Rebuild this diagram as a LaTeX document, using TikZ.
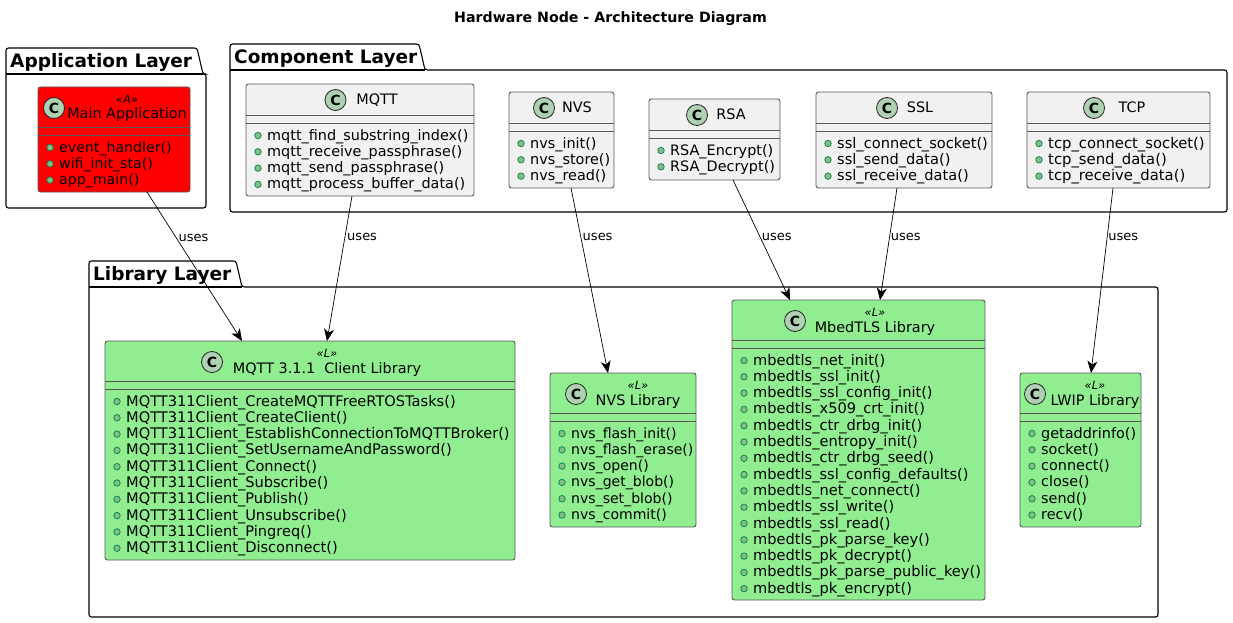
\documentclass[tikz,border=0pt]{standalone}
\usepackage{fontspec}
\setmainfont{DejaVu Sans}
\usepackage{tikz}
\usetikzlibrary{arrows.meta}

\definecolor{greyclass}{HTML}{F1F1F1}
\definecolor{greenclass}{HTML}{90EE90}
\definecolor{spotfill}{HTML}{ADD1B2}
\definecolor{dotfill}{HTML}{84BE84}
\definecolor{dotdraw}{HTML}{038048}

\tikzset{
    classbox/.style={draw=black!65, line width=0.9pt, rounded corners=2.5pt, anchor=north west, inner sep=0, outer sep=0},
    separator/.style={draw=black!65, line width=0.8pt},
    spot/.style={circle, draw=black!85, line width=0.8pt, fill=spotfill, minimum size=21pt, inner sep=0, font=\fontsize{14}{14}\bfseries},
    classtitle/.style={anchor=base, inner sep=0, font=\fontsize{14.4}{15}\selectfont},
    stereo/.style={anchor=base, inner sep=0, font=\fontsize{11.5}{12}\itshape},
    member/.style={anchor=base west, inner sep=0},
    memberdot/.style={circle, draw=dotdraw, line width=0.7pt, fill=dotfill, minimum size=6.5pt, inner sep=0},
    layer/.style={line width=1.1pt, rounded corners=2.5pt, fill=white},
    layertitle/.style={anchor=base west, inner sep=0, font=\fontsize{18.5}{19}\bfseries},
    uses/.style={->, >={Stealth[length=12pt, width=10pt, inset=3.5pt]}, line width=0.7pt},
    useslabel/.style={inner sep=0, font=\fontsize{13}{13}\selectfont},
}

% outline of a package: name, left, top, right of tab, bottom of tab, right, bottom, text
\newcommand{\layerbox}[8]{
    \draw[layer] (#2,#5) -- (#2,#3) -- (#4-6,#3) -- (#4,#5) -- (#6,#5) -- (#6,#7) -- (#2,#7) -- cycle;
    \draw[line width=1.1pt] (#2,#5) -- (#4,#5);
    \node[layertitle] (#1) at (#2+4,#5-6.5) {#8};
}
% name, fill, x, y, width, height
\newcommand{\classrect}[6]{
    \node[classbox, fill=#2, minimum width=#5pt, minimum height=#6pt] (#1) at (#3,#4) {};
}
% name, spot x, title x, title
\newcommand{\plainhead}[4]{
    \path (#1.north west) ++(0,16) coordinate (#1-row);
    \node[spot] (#1-spot) at (#2,0 |- #1-row) {C};
    \path (#1.north west) ++(0,21) coordinate (#1-row);
    \node[classtitle] (#1-title) at (#3,0 |- #1-row) {#4};
    \draw[separator] ([yshift=-31pt]#1.north west) -- ([yshift=-31pt]#1.north east);
    \draw[separator] ([yshift=-39pt]#1.north west) -- ([yshift=-39pt]#1.north east);
}
% name, spot x, title x, title, stereotype
\newcommand{\stereohead}[5]{
    \path (#1.north west) ++(0,21) coordinate (#1-row);
    \node[spot] (#1-spot) at (#2,0 |- #1-row) {C};
    \path (#1.north west) ++(0,16) coordinate (#1-row);
    \node[stereo] (#1-stereo) at (#3,0 |- #1-row) {«#5»};
    \path (#1.north west) ++(0,32) coordinate (#1-row);
    \node[classtitle] (#1-title) at (#3,0 |- #1-row) {#4};
    \draw[separator] ([yshift=-40.5pt]#1.north west) -- ([yshift=-40.5pt]#1.north east);
    \draw[separator] ([yshift=-48pt]#1.north west) -- ([yshift=-48pt]#1.north east);
}
% [font size] name, first baseline below top, list
\newcommand{\members}[4][14.4]{
    \foreach \m [count=\i] in {#4} {
        \pgfmathsetmacro{\my}{#3+16.3*(\i-1)}
        \node[member, font=\fontsize{#1}{15}\selectfont] (#2-m\i) at ([xshift=21pt,yshift=-\my pt]#2.north west) {\m};
        \node[memberdot] (#2-d\i) at ([xshift=-9pt,yshift=4.5pt]#2-m\i.base west) {};
    }
}

\begin{document}
\begin{tikzpicture}[x=1pt, y=-1pt]
    \useasboundingbox[fill=white] (0,0) rectangle (1233,623);

    \node[anchor=base, inner sep=0, font=\fontsize{14.2}{15}\bfseries] (diagramtitle) at (610.5,23) {Hardware Node - Architecture Diagram};

    % layers
    \layerbox{applayer}{6}{48}{203}{74}{206}{208}{Application Layer}
    \layerbox{complayer}{230}{44}{425}{70}{1227}{212}{Component Layer}
    \layerbox{liblayer}{89}{261}{242}{287}{1158}{617}{Library Layer}

    % application
    \classrect{mainapp}{red}{38}{87}{152}{105}
    \stereohead{mainapp}{54}{127}{Main Application}{A}
    \members[14.15]{mainapp}{65}{event\_handler(), wifi\_init\_sta(), app\_main()}

    % components
    \classrect{mqtt}{greyclass}{246}{84}{228}{112}
    \plainhead{mqtt}{335.5}{377}{MQTT}
    \members{mqtt}{56}{mqtt\_find\_substring\_index(), mqtt\_receive\_passphrase(), mqtt\_send\_passphrase(), mqtt\_process\_buffer\_data()}

    \classrect{nvs}{greyclass}{509}{92}{105}{96}
    \plainhead{nvs}{544}{577}{NVS}
    \members{nvs}{56}{nvs\_init(), nvs\_store(), nvs\_read()}

    \classrect{rsa}{greyclass}{649}{99}{131}{81}
    \plainhead{rsa}{697}{731}{RSA}
    \members{rsa}{56}{RSA\_Encrypt(), RSA\_Decrypt()}

    \classrect{ssl}{greyclass}{816}{92}{176}{96}
    \plainhead{ssl}{887}{920}{SSL}
    \members[14.6]{ssl}{56}{ssl\_connect\_socket(), ssl\_send\_data(), ssl\_receive\_data()}

    \classrect{tcp}{greyclass}{1027}{92}{183}{96}
    \plainhead{tcp}{1094}{1132}{TCP}
    \members[14.8]{tcp}{56}{tcp\_connect\_socket(), tcp\_send\_data(), tcp\_receive\_data()}

    % libraries
    \classrect{mqttlib}{greenclass}{105}{341}{410}{219}
    \stereohead{mqttlib}{212}{327}{MQTT 3.1.1\ \ Client Library}{L}
    \members[14.6]{mqttlib}{65}{MQTT311Client\_CreateMQTTFreeRTOSTasks(), MQTT311Client\_CreateClient(), MQTT311Client\_EstablishConnectionToMQTTBroker(), MQTT311Client\_SetUsernameAndPassword(), MQTT311Client\_Connect(), MQTT311Client\_Subscribe(), MQTT311Client\_Publish(), MQTT311Client\_Unsubscribe(), MQTT311Client\_Pingreq(), MQTT311Client\_Disconnect()}

    \classrect{nvslib}{greenclass}{550}{373}{146}{154}
    \stereohead{nvslib}{576}{638}{NVS Library}{L}
    \members[14.05]{nvslib}{65}{nvs\_flash\_init(), nvs\_flash\_erase(), nvs\_open(), nvs\_get\_blob(), nvs\_set\_blob(), nvs\_commit()}

    \classrect{mbedlib}{greenclass}{732}{300}{253}{300}
    \stereohead{mbedlib}{795}{875}{MbedTLS Library}{L}
    \members[14.6]{mbedlib}{65}{mbedtls\_net\_init(), mbedtls\_ssl\_init(), mbedtls\_ssl\_config\_init(), mbedtls\_x509\_crt\_init(), mbedtls\_ctr\_drbg\_init(), mbedtls\_entropy\_init(), mbedtls\_ctr\_drbg\_seed(), mbedtls\_ssl\_config\_defaults(), mbedtls\_net\_connect(), mbedtls\_ssl\_write(), mbedtls\_ssl\_read(), mbedtls\_pk\_parse\_key(), mbedtls\_pk\_decrypt(), mbedtls\_pk\_parse\_public\_key(), mbedtls\_pk\_encrypt()}

    \classrect{lwiplib}{greenclass}{1020}{373}{121}{154}
    \stereohead{lwiplib}{1035}{1095}{LWIP Library}{L}
    \members{lwiplib}{65}{getaddrinfo(), socket(), connect(), close(), send(), recv()}

    % connectors
    \draw[uses] ([xshift=33pt]mainapp.south) -- node[useslabel, pos=0.3, xshift=18pt, yshift=-1pt] (lbl1) {uses} ([xshift=-68pt]mqttlib.north);
    \draw[uses] ([xshift=-8pt]mqtt.south) -- node[useslabel, pos=0.275, xshift=17pt, yshift=-1pt] (lbl2) {uses} ([xshift=17pt]mqttlib.north);
    \draw[uses] ([xshift=9.5pt]nvs.south) -- node[useslabel, pos=0.26, xshift=17pt, yshift=-1pt] (lbl3) {uses} ([xshift=-15pt]nvslib.north);
    \draw[uses] ([xshift=18.5pt]rsa.south) -- node[useslabel, pos=0.47, xshift=17pt, yshift=-1pt] (lbl4) {uses} ([xshift=-68.5pt]mbedlib.north);
    \draw[uses] ([xshift=-7pt]ssl.south) -- node[useslabel, pos=0.43, xshift=16pt, yshift=-1pt] (lbl5) {uses} ([xshift=21.5pt]mbedlib.north);
    \draw[uses] ([xshift=-5.5pt]tcp.south) -- node[useslabel, pos=0.26, xshift=16pt, yshift=-1pt] (lbl6) {uses} ([xshift=10.5pt]lwiplib.north);
\end{tikzpicture}
\end{document}
